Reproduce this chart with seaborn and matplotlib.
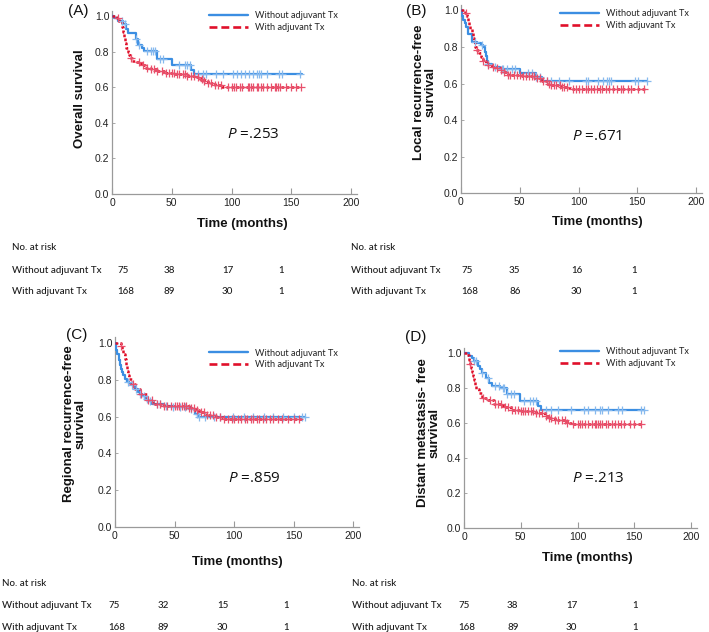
import numpy as np
import pandas as pd
import matplotlib
matplotlib.use("Agg")
import matplotlib.pyplot as plt
from matplotlib.lines import Line2D
import seaborn as sns

# ---------------- data ----------------
group_labels = ["Without adjuvant Tx", "With adjuvant Tx"]
x_ticks = [0, 50, 100, 150, 200]
y_ticks = [0.0, 0.2, 0.4, 0.6, 0.8, 1.0]

# Panel A: overall survival
a_wo_t = [0, 2, 5, 9, 12, 13, 20, 22, 25, 27, 38, 50, 66, 69, 159]
a_wo_s = [1.0, 0.987, 0.973, 0.953, 0.925, 0.902, 0.868, 0.836, 0.82, 0.804, 0.76, 0.723, 0.694, 0.672, 0.672]
a_wo_c = [8, 11, 20, 23, 29, 33, 34, 36, 40, 43, 56, 61, 63, 65, 72, 76, 79, 87, 93, 101, 105, 108, 111,
          115, 118, 121, 123, 125, 130, 140, 142, 157]
a_w_t = [0, 4, 6, 8, 9, 10, 11, 12, 13, 14, 15, 17, 20, 24, 28, 33, 38, 45, 53, 62, 70, 74, 77, 80, 86, 92, 158]
a_w_s = [1.0, 0.99, 0.97, 0.94, 0.91, 0.88, 0.85, 0.82, 0.80, 0.78, 0.765, 0.75, 0.74, 0.725, 0.71, 0.70,
         0.69, 0.68, 0.675, 0.665, 0.655, 0.645, 0.635, 0.625, 0.612, 0.60, 0.60]
a_w_c = [5, 16, 23, 26, 29, 33, 35, 38, 42, 45, 48, 50, 52, 54, 56, 59, 61, 63, 66, 69, 72, 75, 77, 80, 83,
         86, 89, 91, 97, 100, 102, 104, 107, 109, 114, 115, 116, 118, 121, 122, 125, 126, 130, 133, 136,
         137, 139, 141, 146, 150, 154, 158]

# Panel B: local recurrence-free survival
b_wo_t = [0, 1, 2, 3, 4, 6, 9, 14, 17, 19, 20, 21, 22, 23, 26, 33, 50, 64, 69, 158]
b_wo_s = [1.0, 0.97, 0.95, 0.93, 0.91, 0.87, 0.83, 0.82, 0.81, 0.80, 0.77, 0.75, 0.725, 0.705, 0.69,
          0.68, 0.66, 0.636, 0.611, 0.611]
b_wo_c = [12, 18, 23, 29, 35, 36, 39, 43, 46, 57, 60, 64, 67, 73, 77, 83, 92, 106, 108, 117, 121, 124,
          126, 128, 148, 151, 158]
b_w_t = [0, 3, 5, 6, 7, 8, 9, 10, 11, 12, 13, 15, 17, 19, 21, 23, 26, 29, 33, 36, 40, 52, 63, 69, 74, 77,
         85, 91, 94, 157]
b_w_s = [1.0, 0.985, 0.97, 0.945, 0.92, 0.90, 0.875, 0.85, 0.825, 0.80, 0.785, 0.765, 0.745, 0.725, 0.71,
         0.70, 0.69, 0.685, 0.675, 0.665, 0.648, 0.642, 0.63, 0.615, 0.60, 0.59, 0.58, 0.575, 0.57, 0.57]
b_w_c = [4, 14, 19, 23, 27, 31, 34, 37, 40, 42, 45, 48, 50, 53, 55, 58, 60, 62, 65, 67, 70, 73, 75, 77,
         79, 81, 84, 86, 88, 90, 95, 98, 100, 103, 106, 108, 111, 113, 116, 118, 120, 123, 126, 129, 133,
         136, 138, 142, 145, 151, 156]

# Panel C: regional recurrence-free survival
c_wo_t = [0, 1, 2, 3, 4, 5, 6, 7, 8, 10, 12, 14, 17, 19, 21, 23, 25, 28, 31, 41, 49, 64, 67, 70, 160]
c_wo_s = [1.0, 0.96, 0.94, 0.905, 0.88, 0.86, 0.84, 0.825, 0.805, 0.79, 0.78, 0.77, 0.75, 0.735, 0.724,
          0.71, 0.697, 0.685, 0.67, 0.66, 0.652, 0.643, 0.616, 0.598, 0.598]
c_wo_c = [11, 14, 18, 21, 24, 27, 29, 35, 38, 43, 49, 55, 59, 64, 69, 71, 76, 83, 88, 99, 108, 116, 125,
          133, 141, 150, 157, 160]
c_w_t = [0, 5, 6, 7, 8, 9, 10, 11, 12, 14, 17, 21, 27, 32, 41, 52, 62, 67, 71, 76, 83, 91, 157]
c_w_s = [1.0, 0.985, 0.96, 0.94, 0.915, 0.875, 0.85, 0.825, 0.805, 0.778, 0.751, 0.724, 0.688, 0.67,
         0.66, 0.656, 0.649, 0.634, 0.625, 0.61, 0.598, 0.589, 0.589]
c_w_c = [5, 15, 22, 28, 31, 35, 38, 41, 44, 47, 50, 52, 54, 56, 58, 60, 62, 64, 66, 69, 72, 75, 77, 80,
         82, 85, 88, 92, 95, 98, 100, 103, 106, 109, 111, 114, 116, 119, 121, 124, 127, 130, 133, 137,
         140, 145, 150, 155]

# Panel D: distant metastasis-free survival
d_wo_t = [0, 4, 7, 9, 12, 14, 16, 19, 22, 25, 32, 38, 49, 65, 68, 159]
d_wo_s = [1.0, 0.985, 0.972, 0.953, 0.925, 0.906, 0.887, 0.858, 0.83, 0.811, 0.80, 0.764, 0.726, 0.698,
          0.675, 0.675]
d_wo_c = [9, 11, 16, 21, 27, 31, 34, 35, 38, 41, 44, 53, 58, 61, 63, 72, 77, 83, 94, 106, 109, 115, 120,
          122, 127, 136, 139, 156, 159]
d_w_t = [0, 3, 4, 5, 6, 7, 8, 9, 10, 11, 13, 16, 21, 26, 34, 41, 50, 63, 71, 75, 80, 91, 94, 157]
d_w_s = [1.0, 0.99, 0.962, 0.94, 0.915, 0.89, 0.868, 0.845, 0.815, 0.795, 0.77, 0.745, 0.73, 0.708,
         0.689, 0.675, 0.666, 0.655, 0.64, 0.626, 0.617, 0.60, 0.594, 0.594]
d_w_c = [5, 17, 23, 27, 30, 33, 36, 39, 42, 45, 48, 50, 52, 54, 56, 59, 61, 63, 66, 69, 72, 75, 77, 80,
         83, 86, 89, 91, 96, 100, 102, 104, 107, 109, 113, 115, 116, 118, 120, 122, 125, 127, 130, 133,
         136, 138, 141, 146, 150, 156]

panel_letters = ["(A)", "(B)", "(C)", "(D)"]
y_labels = ["Overall survival", "Local recurrence-free\nsurvival",
            "Regional recurrence-free\nsurvival", "Distant metastasis- free\nsurvival"]
p_values = [".253", ".671", ".859", ".213"]

risk_times_header = "No. at risk"
a_risk_wo = [75, 38, 17, 1]
a_risk_w = [168, 89, 30, 1]
b_risk_wo = [75, 35, 16, 1]
b_risk_w = [168, 86, 30, 1]
c_risk_wo = [75, 32, 15, 1]
c_risk_w = [168, 89, 30, 1]
d_risk_wo = [75, 38, 17, 1]
d_risk_w = [168, 89, 30, 1]

# ---------------- style ----------------
sns.set_theme(style="ticks")
plt.rcParams["font.family"] = ["Liberation Sans", "DejaVu Sans"]
plt.rcParams["mathtext.fontset"] = "custom"
plt.rcParams["mathtext.it"] = "Open Sans:italic"
plt.rcParams["mathtext.rm"] = "Open Sans"

BLUE = "#3b8ee2"
BLUE_C = "#86b9ee"
RED = "#e0102a"
RED_C = "#e8506c"
SPINE = "#9a9a9a"

W, H = 709, 632
fig = plt.figure(figsize=(W / 100, H / 100), dpi=100)
fig.patch.set_facecolor("white")


def fx(px):
    return px / W


def fy(py):
    return 1 - py / H


# pixel geometry per panel: left(x=0), right(x=200), bottom(y=0), y at 1.0
geoms = [(112, 351, 194, 16), (461, 696, 193, 10.5), (115, 353, 527, 343), (464, 691, 528, 353)]
legend_pos = [(209, 11.5), (560, 9.5), (209, 348.5), (560, 347.5)]
p_pos = [(227, 135), (572, 136), (228, 479), (572, 479)]
letter_pos = [(78, 11), (416, 11), (77, 335), (416, 337)]
ylabel_pos = [(80, 99), (425, 92), (75, 424), (429, 433)]
xlabel_pos = [(242, 224), (597, 222), (237, 562), (587, 558)]

curves = [
    (a_wo_t, a_wo_s, a_wo_c, a_w_t, a_w_s, a_w_c),
    (b_wo_t, b_wo_s, b_wo_c, b_w_t, b_w_s, b_w_c),
    (c_wo_t, c_wo_s, c_wo_c, c_w_t, c_w_s, c_w_c),
    (d_wo_t, d_wo_s, d_wo_c, d_w_t, d_w_s, d_w_c),
]


def step_at(t, s, c):
    t = np.asarray(t, float)
    s = np.asarray(s, float)
    idx = np.searchsorted(t, np.asarray(c, float), side="right") - 1
    return s[np.clip(idx, 0, len(s) - 1)]


XMAX, YMAX = 205, 1.03
for i, (left, right, bottom, y1) in enumerate(geoms):
    xs = (right - left) / 200.0
    ys = bottom - y1
    rect = [fx(left), fy(bottom), (xs * XMAX) / W, (ys * YMAX) / H]
    ax = fig.add_axes(rect)
    ax.set_facecolor("white")
    two, swo, cwo, tw, sw, cw = curves[i]

    df_wo = pd.DataFrame({"time": two, "surv": swo})
    df_w = pd.DataFrame({"time": tw, "surv": sw})
    sns.lineplot(data=df_wo, x="time", y="surv", ax=ax, color=BLUE, lw=1.6,
                 drawstyle="steps-post", estimator=None, sort=False, legend=False, zorder=3)
    sns.lineplot(data=df_w, x="time", y="surv", ax=ax, color=RED, lw=1.8,
                 linestyle=(0, (1.1, 0.9)), drawstyle="steps-post", estimator=None, sort=False,
                 legend=False, zorder=3)
    sns.scatterplot(x=cwo, y=step_at(two, swo, cwo), ax=ax, marker="+", s=36, linewidth=0.9,
                    color=BLUE_C, legend=False, zorder=4)
    sns.scatterplot(x=cw, y=step_at(tw, sw, cw), ax=ax, marker="+", s=36, linewidth=0.9,
                    color=RED_C, legend=False, zorder=4)

    ax.set_xlim(0, XMAX)
    ax.set_ylim(0, YMAX)
    ax.set_xticks(x_ticks)
    ax.set_xticklabels([str(v) for v in x_ticks])
    ax.set_yticks(y_ticks)
    ax.set_yticklabels([f"{v:.1f}" for v in y_ticks])
    for sp in ["top", "right"]:
        ax.spines[sp].set_visible(False)
    for sp in ["left", "bottom"]:
        ax.spines[sp].set_color(SPINE)
        ax.spines[sp].set_linewidth(0.9)
    ax.tick_params(axis="x", direction="in", length=4, width=0.8, color=SPINE, pad=3,
                   labelsize=7.5, labelcolor="#222222")
    ax.tick_params(axis="y", direction="in", length=2.5, width=0.6, color=SPINE, pad=2,
                   labelsize=7.5, labelcolor="#222222")
    ax.grid(False)

    # axis labels
    ax.set_xlabel("Time (months)", fontsize=9.5, fontweight="bold", color="#111111")
    ax.xaxis.label.set_va("center")
    ax.xaxis.set_label_coords(fx(xlabel_pos[i][0]), fy(xlabel_pos[i][1]), transform=fig.transFigure)
    ax.set_ylabel(y_labels[i], fontsize=9.5, fontweight="bold", color="#111111", linespacing=1.0)
    ax.yaxis.label.set_va("center")
    ax.yaxis.label.set_ha("center")
    ax.yaxis.set_label_coords(fx(ylabel_pos[i][0]), fy(ylabel_pos[i][1]), transform=fig.transFigure)

    # p-value
    ax.text(fx(p_pos[i][0]), fy(p_pos[i][1]), r"$\it{P}$ =" + p_values[i], transform=fig.transFigure,
            fontsize=11, family=["Open Sans", "DejaVu Sans"], ha="left", va="center", color="#111111")

    # panel letter
    fig.text(fx(letter_pos[i][0]), fy(letter_pos[i][1]), panel_letters[i], fontsize=11,
             ha="center", va="center", color="#111111")

    # legend
    handles = [Line2D([], [], color=BLUE, lw=1.7),
               Line2D([], [], color=RED, lw=1.9, linestyle=(0, (3, 1.5)))]
    leg = ax.legend(handles, group_labels, loc="upper left",
                    bbox_to_anchor=(fx(legend_pos[i][0]), fy(legend_pos[i][1])),
                    bbox_transform=fig.transFigure, frameon=False, borderpad=0, borderaxespad=0,
                    handlelength=4.3, handletextpad=0.7, labelspacing=0.25,
                    prop={"family": ["Lato", "DejaVu Sans"], "size": 6.6})
    for t in leg.get_texts():
        t.set_color("#222222")

# ---------------- risk tables ----------------
tables = [
    (a_risk_wo, a_risk_w, 12, [117, 164, 222, 278], 248, 270, 291),
    (b_risk_wo, b_risk_w, 351, [461, 509, 571, 631], 248, 270, 291),
    (c_risk_wo, c_risk_w, 2, [108, 158, 217, 283], 584, 605, 627),
    (d_risk_wo, d_risk_w, 352, [458, 507, 566, 632], 584, 605, 627),
]
tfont = {"family": ["Lato", "DejaVu Sans"], "size": 7.0, "color": "#1a1a1a", "weight": "medium"}
for wo, w, lx, cols, yh, y1r, y2r in tables:
    fig.text(fx(lx), fy(yh), risk_times_header, ha="left", va="center", **tfont)
    fig.text(fx(lx), fy(y1r), group_labels[0], ha="left", va="center", **tfont)
    fig.text(fx(lx), fy(y2r), group_labels[1], ha="left", va="center", **tfont)
    for cx, v1, v2 in zip(cols, wo, w):
        fig.text(fx(cx), fy(y1r), str(v1), ha="left", va="center", **tfont)
        fig.text(fx(cx), fy(y2r), str(v2), ha="left", va="center", **tfont)

fig.savefig("out.png", dpi=100, facecolor="white")
